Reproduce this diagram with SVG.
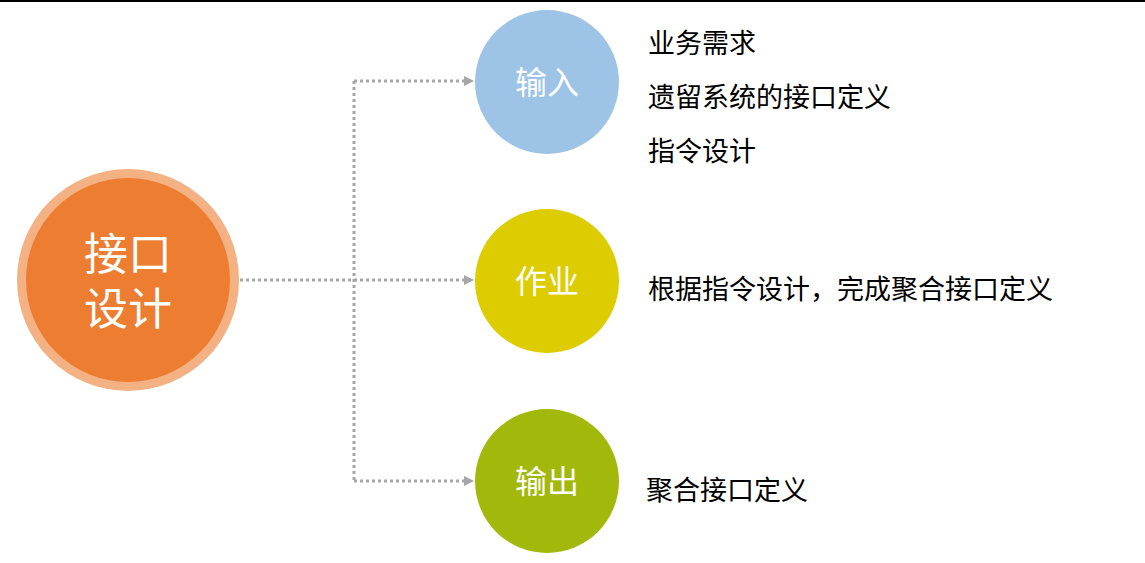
<svg xmlns="http://www.w3.org/2000/svg" width="1145" height="563" viewBox="0 0 1145 563">
<defs><marker id="ar" markerWidth="10" markerHeight="10" refX="8" refY="5" orient="auto" markerUnits="userSpaceOnUse"><path d="M0,0 L10,5 L0,10 Z" fill="#a6a6a6"/></marker>
<style>.c{fill:none;stroke:#a6a6a6;stroke-width:3;stroke-dasharray:3 3}.w{fill:#fff;font-family:"Liberation Sans","Noto Sans CJK SC",sans-serif;text-anchor:middle}.t{fill:#000;font-family:"Liberation Sans","Noto Sans CJK SC",sans-serif;font-size:27px}</style></defs>
<rect width="1145" height="563" fill="#fff"/>
<line x1="0" y1="1" x2="1145" y2="1" stroke="#000" stroke-width="2"/>
<g id="connectors">
<path class="c" d="M234,280 H354"/>
<path class="c" d="M354,81 V481"/>
<path class="c" d="M354,81 H472" marker-end="url(#ar)"/>
<path class="c" d="M354,280 H472" marker-end="url(#ar)"/>
<path class="c" d="M354,481 H472" marker-end="url(#ar)"/>
</g>
<g id="center"><circle cx="128" cy="280" r="111" fill="#f4b183"/><circle cx="128" cy="280" r="102" fill="#ed7d31"/>
<text class="w" x="128" y="270" font-size="44">接口</text><text class="w" x="128" y="325" font-size="44">设计</text></g>
<g id="input"><circle cx="547" cy="82" r="72" fill="#9dc3e6"/><text class="w" x="547" y="94" font-size="32">输入</text></g>
<g id="work"><circle cx="547" cy="281" r="72" fill="#ddcc00"/><text class="w" x="547" y="293" font-size="32">作业</text></g>
<g id="output"><circle cx="547" cy="481" r="72" fill="#a2b90c"/><text class="w" x="547" y="493" font-size="32">输出</text></g>
<g id="labels">
<text class="t" x="648" y="53">业务需求</text>
<text class="t" x="648" y="107">遗留系统的接口定义</text>
<text class="t" x="648" y="161">指令设计</text>
<text class="t" x="648" y="299">根据指令设计，完成聚合接口定义</text>
<text class="t" x="646" y="500">聚合接口定义</text>
</g>
</svg>
